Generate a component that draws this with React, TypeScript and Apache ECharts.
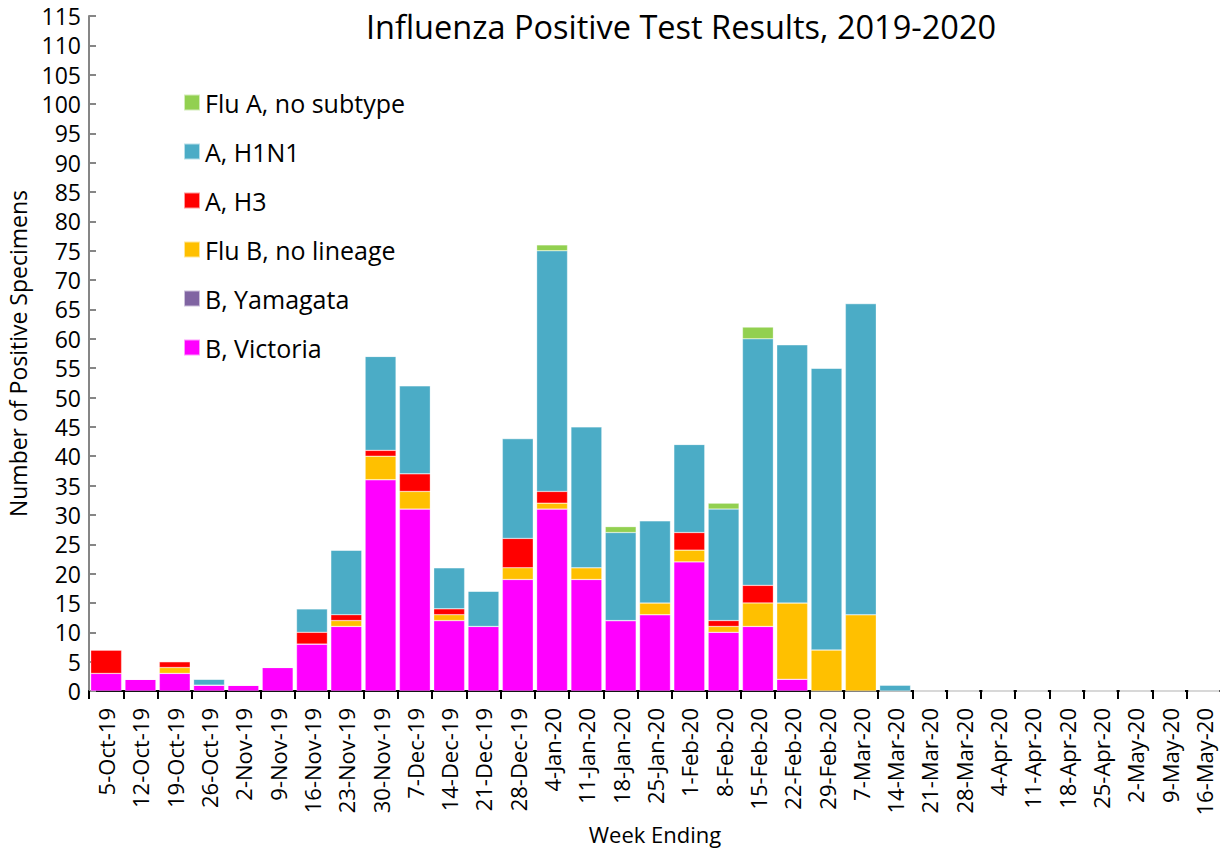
import React, { useEffect, useRef } from "react";
import * as echarts from "echarts";

const weeks = [
  "5-Oct-19", "12-Oct-19", "19-Oct-19", "26-Oct-19", "2-Nov-19", "9-Nov-19", "16-Nov-19", "23-Nov-19",
  "30-Nov-19", "7-Dec-19", "14-Dec-19", "21-Dec-19", "28-Dec-19", "4-Jan-20", "11-Jan-20", "18-Jan-20",
  "25-Jan-20", "1-Feb-20", "8-Feb-20", "15-Feb-20", "22-Feb-20", "29-Feb-20", "7-Mar-20", "14-Mar-20",
  "21-Mar-20", "28-Mar-20", "4-Apr-20", "11-Apr-20", "18-Apr-20", "25-Apr-20", "2-May-20", "9-May-20", "16-May-20",
];

const bVictoria = [3, 2, 3, 1, 1, 4, 8, 11, 36, 31, 12, 11, 19, 31, 19, 12, 13, 22, 10, 11, 2, 0, 0, 0, 0, 0, 0, 0, 0, 0, 0, 0, 0];
const bYamagata = [0, 0, 0, 0, 0, 0, 0, 0, 0, 0, 0, 0, 0, 0, 0, 0, 0, 0, 0, 0, 0, 0, 0, 0, 0, 0, 0, 0, 0, 0, 0, 0, 0];
const fluBNoLineage = [0, 0, 1, 0, 0, 0, 0, 1, 4, 3, 1, 0, 2, 1, 2, 0, 2, 2, 1, 4, 13, 7, 13, 0, 0, 0, 0, 0, 0, 0, 0, 0, 0];
const aH3 = [4, 0, 1, 0, 0, 0, 2, 1, 1, 3, 1, 0, 5, 2, 0, 0, 0, 3, 1, 3, 0, 0, 0, 0, 0, 0, 0, 0, 0, 0, 0, 0, 0];
const aH1N1 = [0, 0, 0, 1, 0, 0, 4, 11, 16, 15, 7, 6, 17, 41, 24, 15, 14, 15, 19, 42, 44, 48, 53, 1, 0, 0, 0, 0, 0, 0, 0, 0, 0];
const fluANoSubtype = [0, 0, 0, 0, 0, 0, 0, 0, 0, 0, 0, 0, 0, 1, 0, 1, 0, 0, 1, 2, 0, 0, 0, 0, 0, 0, 0, 0, 0, 0, 0, 0, 0];

const seriesDefs = [
  { name: "B, Victoria", data: bVictoria, color: "#FF00FF" },
  { name: "B, Yamagata", data: bYamagata, color: "#8064A2" },
  { name: "Flu B, no lineage", data: fluBNoLineage, color: "#FFC000" },
  { name: "A, H3", data: aH3, color: "#FF0000" },
  { name: "A, H1N1", data: aH1N1, color: "#4BACC6" },
  { name: "Flu A, no subtype", data: fluANoSubtype, color: "#92D050" },
];

const legendOrder = ["Flu A, no subtype", "A, H1N1", "A, H3", "Flu B, no lineage", "B, Yamagata", "B, Victoria"];

const FONT = "'Open Sans', 'Noto Sans', sans-serif";

export default function App() {
  const ref = useRef<HTMLDivElement>(null);
  useEffect(() => {
    document.body.style.margin = "0";
    const chart = echarts.init(ref.current!, null, { renderer: "svg" });
    chart.setOption({
      animation: false,
      textStyle: { fontFamily: FONT },
      title: {
        text: "Influenza Positive Test Results, 2019-2020",
        left: 676,
        top: 5,
        textAlign: "center",
        textStyle: { fontSize: 32.5, fontWeight: "normal", color: "#000", fontFamily: FONT },
      },
      legend: {
        data: legendOrder,
        orient: "vertical",
        left: 178,
        top: 85,
        itemWidth: 16,
        itemHeight: 16,
        itemGap: 24,
        icon: "rect",
        textStyle: { fontSize: 25, color: "#000", fontFamily: FONT },
      },
      grid: { left: 89, right: -1, top: 16, bottom: 158, containLabel: false, outerBoundsMode: "none" },
      xAxis: {
        type: "category",
        data: weeks,
        name: "Week Ending",
        nameLocation: "middle",
        nameGap: 131,
        nameTextStyle: { fontSize: 22, color: "#000", fontFamily: FONT },
        axisLine: { lineStyle: { color: "#000", width: 2 } },
        axisTick: { show: true, length: 8, lineStyle: { color: "#000", width: 2 } },
        axisLabel: { rotate: 90, fontSize: 22, color: "#000", interval: 0, margin: 17, fontFamily: FONT },
      },
      yAxis: {
        type: "value",
        min: 0,
        max: 115,
        interval: 5,
        name: "Number of Positive Specimens",
        nameLocation: "middle",
        nameGap: 60,
        nameTextStyle: { fontSize: 23, color: "#000", fontFamily: FONT },
        axisLine: { show: true, lineStyle: { color: "#868686", width: 2 } },
        axisTick: { show: true, inside: true, length: 7, lineStyle: { color: "#868686", width: 2 } },
        axisLabel: { fontSize: 23, color: "#000", margin: 8, fontFamily: FONT },
        splitLine: { show: false },
      },
      series: seriesDefs.map((s) => ({
        name: s.name,
        type: "bar",
        stack: "total",
        data: s.data,
        barCategoryGap: "10%",
        itemStyle: { color: s.color, borderColor: "rgba(255,255,255,0.6)", borderWidth: 0.5 },
      })),
    });
    return () => chart.dispose();
  }, []);
  return <div ref={ref} style={{ width: 1220, height: 849 }} />;
}
